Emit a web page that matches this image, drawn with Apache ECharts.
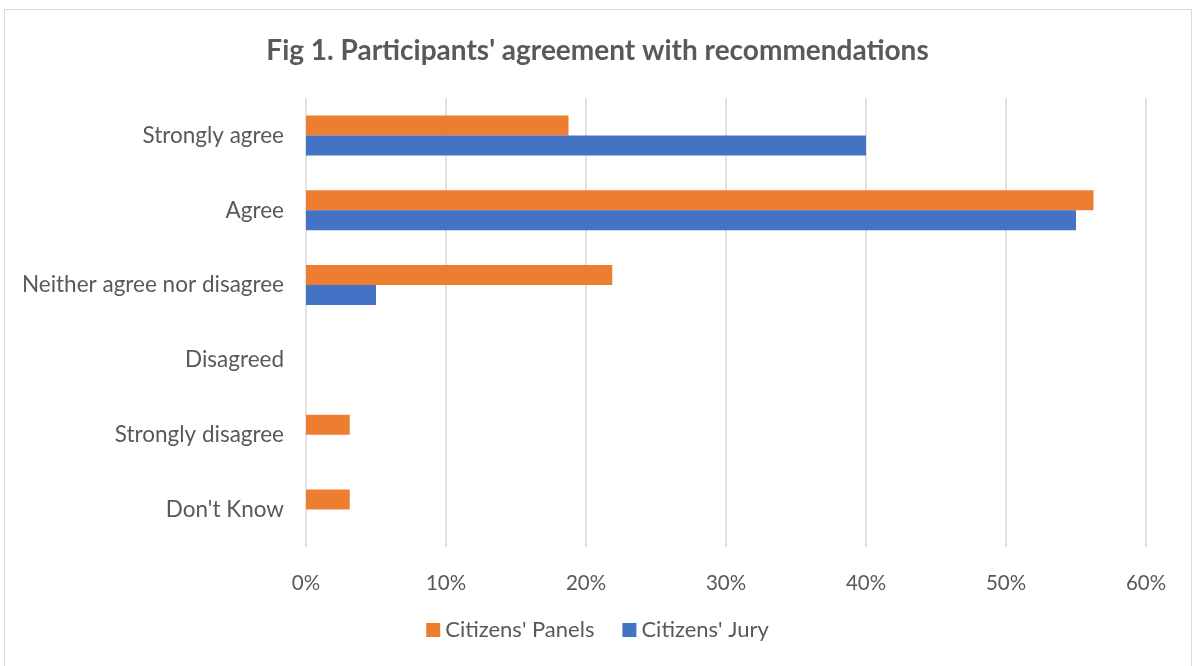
<!DOCTYPE html>
<html><head><meta charset="utf-8">
<script src="https://cdn.jsdelivr.net/npm/echarts@6/dist/echarts.min.js"></script>
<style>html,body{margin:0;padding:0;background:#fff}#c{width:1195px;height:666px}
#frame{position:absolute;left:4px;top:9px;width:1188px;height:670px;border:1.5px solid #d9d9d9;box-sizing:border-box;pointer-events:none}</style>
</head><body><div id="c"></div><div id="frame"></div>
<script>
const categories = ["Strongly agree","Agree","Neither agree nor disagree","Disagreed","Strongly disagree","Don't Know"];
const panels = [18.75, 56.25, 21.875, 0, 3.125, 3.125];
const jury = [40, 55, 5, 0, 0, 0];
const seriesNames = ["Citizens' Panels","Citizens' Jury"];
const FONT = 'Lato, "Open Sans", sans-serif';
const chart = echarts.init(document.getElementById('c'));
chart.setOption({
  animation:false,
  title:{text:"Fig 1. Participants' agreement with recommendations",left:'center',top:32,
    textStyle:{fontFamily:FONT,fontSize:28,fontWeight:'bold',color:'#595959'}},
  legend:{data:seriesNames,bottom:20,left:'center',itemWidth:14,itemHeight:14,itemGap:28,icon:'rect',
    textStyle:{fontFamily:FONT,fontSize:22,color:'#595959'}},
  grid:{left:306,right:49,top:98,bottom:119,containLabel:false},
  xAxis:{type:'value',min:0,max:60,interval:10,
    axisLabel:{formatter:'{value}%',fontFamily:FONT,fontSize:20.5,color:'#595959',margin:26},
    axisLine:{show:false},axisTick:{show:false},
    splitLine:{lineStyle:{color:'#d9d9d9',width:1.5}}},
  yAxis:{type:'category',data:categories,inverse:true,
    axisLabel:{fontFamily:FONT,fontSize:22.5,color:'#595959',margin:22},
    axisLine:{show:false},axisTick:{show:false}},
  series:[
    {name:seriesNames[0],type:'bar',data:panels,barWidth:20,barGap:'0%',itemStyle:{color:'#ED7D31'}},
    {name:seriesNames[1],type:'bar',data:jury,barWidth:20,barGap:'0%',itemStyle:{color:'#4472C4'}}
  ]
});
</script></body></html>
